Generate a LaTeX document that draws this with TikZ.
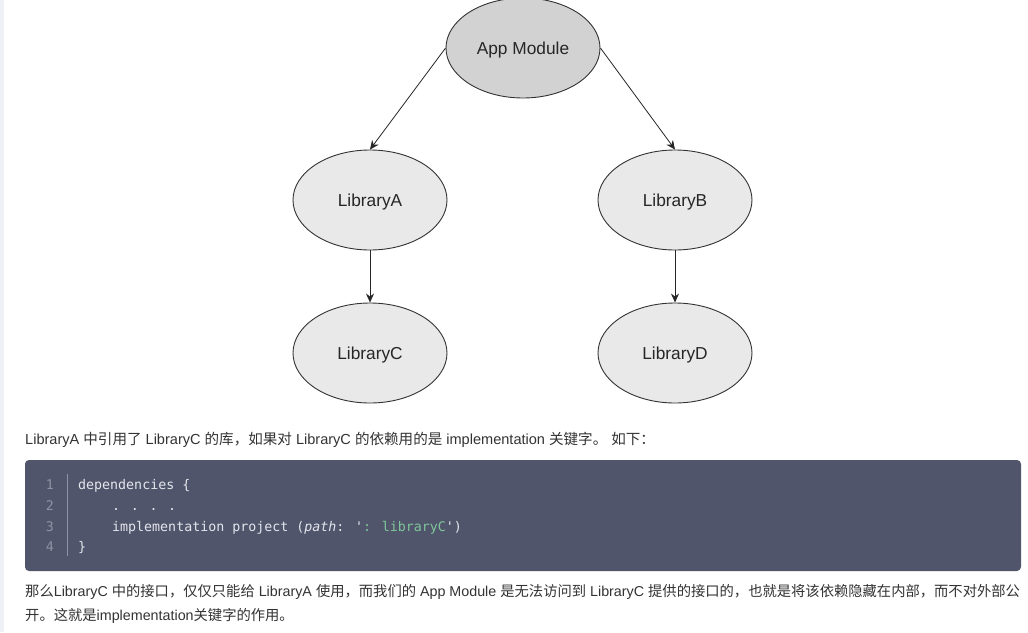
\documentclass[tikz,border=0pt]{standalone}
\usepackage{fontspec}
\setmainfont{Liberation Sans}
\newfontfamily\cjk{Noto Sans CJK SC}
\newfontfamily\codefont{DejaVu Sans Mono}
\usetikzlibrary{shapes.geometric,arrows.meta}
\definecolor{codebg}{HTML}{50556B}
\definecolor{codefg}{HTML}{E4E6EC}
\definecolor{lnum}{HTML}{8E93A6}
\definecolor{strgreen}{HTML}{7EC699}
\definecolor{strip}{HTML}{EEF2F7}
\definecolor{appfill}{HTML}{D2D2D2}
\definecolor{libfill}{HTML}{E9E9E9}
\definecolor{bodytxt}{HTML}{333333}
\tikzset{
  modnode/.style={ellipse, draw=black!80, line width=0.9pt, minimum width=154pt, minimum height=100pt, inner sep=0pt, text height=12.2pt, text depth=0pt, font=\fontsize{17.3}{20}\selectfont, text=black!85},
  dep/.style={draw=black!85, line width=0.8pt, -{Stealth[length=9pt,width=8pt]}},
  bodyline/.style={anchor=base west, inner sep=0pt, text=bodytxt, font=\fontsize{14.3}{16}\selectfont},
  codeline/.style={anchor=base west, inner sep=0pt, text=codefg, font=\codefont\fontsize{13.3}{16}\selectfont},
  numline/.style={anchor=base east, inner sep=0pt, text=lnum, font=\codefont\fontsize{13.3}{16}\selectfont}
}
\begin{document}
\begin{tikzpicture}[x=1pt,y=-1pt]
\useasboundingbox (0,0) rectangle (1028,632);
\fill[white] (0,0) rectangle (1028,632);
\fill[strip] (0,0) rectangle (4,632);

\node[modnode, fill=appfill] (app) at (523,48) {App Module};
\node[modnode, fill=libfill] (liba) at (370,200) {LibraryA};
\node[modnode, fill=libfill] (libb) at (675,200) {LibraryB};
\node[modnode, fill=libfill] (libc) at (370,353) {LibraryC};
\node[modnode, fill=libfill] (libd) at (675,353) {LibraryD};

\draw[dep] (app.west) -- (liba.north);
\draw[dep] (app.east) -- (libb.north);
\draw[dep] (liba.south) -- (libc.north);
\draw[dep] (libb.south) -- (libd.north);

\node[bodyline, font=\fontsize{14.55}{16}\selectfont] (p1) at (25,444) {LibraryA {\cjk 中引用了} LibraryC {\cjk 的库，如果对} LibraryC {\cjk 的依赖用的是} implementation {\cjk 关键字。} {\cjk 如下：}};

\fill[codebg, rounded corners=4pt] (25,460) rectangle (1021,571);
\coordinate (sepTop) at (67,474);
\coordinate (sepBot) at (67,556);
\draw[lnum, line width=0.6pt] (sepTop) -- (sepBot);
\node[numline] (n1) at (54,489) {1};
\node[numline] (n2) at (54,510) {2};
\node[numline] (n3) at (54,531) {3};
\node[numline] (n4) at (54,551) {4};
\node[codeline] (c1) at (78,489) {dependencies \{};
\node[codeline] (c2) at (112,510) {. . . .};
\node[codeline] (c3) at (112,531) {implementation project (\textit{path}: '{\color{strgreen}: libraryC}')};
\node[codeline] (c4) at (78,551) {\}};

\node[bodyline] (p2) at (25,596) {{\cjk 那么}LibraryC {\cjk 中的接口，仅仅只能给} LibraryA {\cjk 使用，而我们的} App Module {\cjk 是无法访问到} LibraryC {\cjk 提供的接口的，也就是将该依赖隐藏在内部，而不对外部公}};
\node[bodyline] (p3) at (25,620) {{\cjk 开。这就是}implementation{\cjk 关键字的作用。}};
\end{tikzpicture}
\end{document}
